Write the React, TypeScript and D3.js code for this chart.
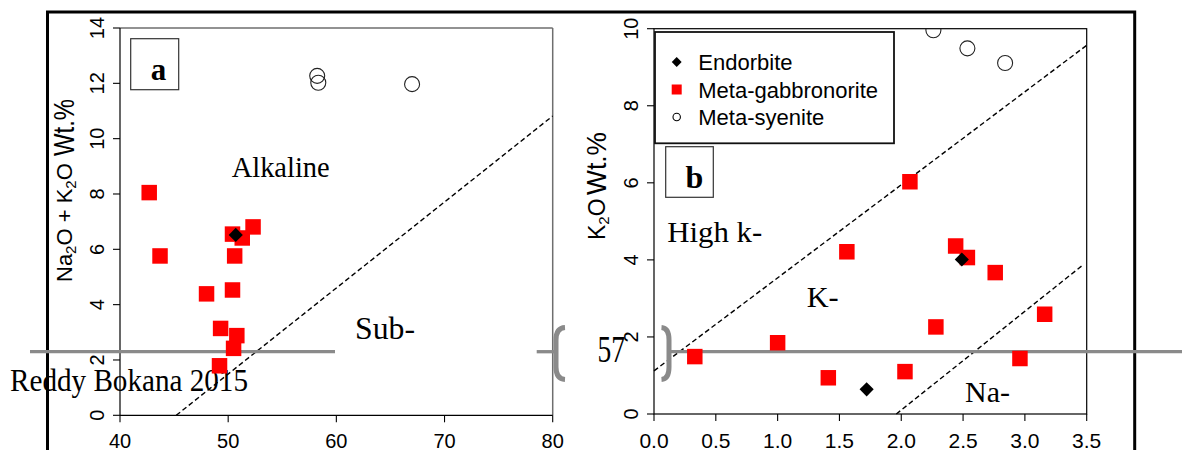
import React from 'react';
import * as d3 from 'd3';

// panel a : SiO2 vs Na2O+K2O
const gabbroA = [
  [42.7, 8.05], [43.7, 5.76], [48.0, 4.39], [50.4, 4.53], [49.3, 3.14], [50.8, 2.88],
  [50.5, 2.42], [49.2, 1.79], [50.6, 5.76], [50.4, 6.55], [51.3, 6.41], [52.3, 6.81],
];
const enderbiteA = [[50.7, 6.52]];
const syeniteA = [[58.23, 12.27], [58.33, 12.02], [67.0, 11.97]];
const dividerA = [[45.2, 0], [80, 10.82]];

// panel b : Na2O vs K2O
const gabbroB = [
  [0.33, 1.49], [1.0, 1.85], [1.41, 0.94], [1.56, 4.21], [2.03, 1.1], [2.28, 2.26],
  [2.44, 4.36], [2.535, 4.06], [2.76, 3.67], [2.96, 1.44], [3.16, 2.59], [2.07, 6.03],
];
const enderbiteB = [[1.72, 0.64], [2.49, 4.01]];
const syeniteB = [[2.26, 9.96], [2.535, 9.49], [2.84, 9.11]];
const upperLineB = [[0, 1.12], [3.5, 9.57]];
const lowerLineB = [[1.96, 0], [3.47, 3.87]];

const xTicksA = [40, 50, 60, 70, 80];
const yTicksA = [0, 2, 4, 6, 8, 10, 12, 14];
const xTicksB = [0, 0.5, 1, 1.5, 2, 2.5, 3, 3.5];
const yTicksB = [0, 2, 4, 6, 8, 10];

const legendItems = ['Endorbite', 'Meta-gabbronorite', 'Meta-syenite'];

const SANS = 'Liberation Sans, Arial, sans-serif';
const SERIF = 'Liberation Serif, Times New Roman, serif';
const GRAY = '#8a8a8a';

const square = d3.symbol(d3.symbolSquare, 240)();
const diamond = d3.symbol(d3.symbolSquare, 100)();
const circle = d3.symbol(d3.symbolCircle, 177)();

export default function App() {
  const xA = d3.scaleLinear().domain([40, 80]).range([120, 552.7]);
  const yA = d3.scaleLinear().domain([0, 14]).range([415.3, 28]);
  const xB = d3.scaleLinear().domain([0, 3.5]).range([654, 1086.7]);
  const yB = d3.scaleLinear().domain([0, 10]).range([414, 28.7]);

  const lineA = d3.line<number[]>().x(d => xA(d[0])).y(d => yA(d[1]));
  const lineB = d3.line<number[]>().x(d => xB(d[0])).y(d => yB(d[1]));
  const fmtB = d3.format('.1f');

  const points = (data: number[][], x: any, y: any, kind: string) =>
    data.map((d, i) => {
      const t = `translate(${x(d[0])},${y(d[1])})`;
      if (kind === 'sq') return <path key={i} d={square} transform={t} fill="#ff0000" />;
      if (kind === 'di') return <path key={i} d={diamond} transform={t + ' rotate(45)'} fill="#000" />;
      return <path key={i} d={circle} transform={t} fill="none" stroke="#222" strokeWidth={1.1} />;
    });

  return (
    <div style={{ position: 'absolute', left: 0, top: 0 }}>
      <svg width={1182} height={450} style={{ display: 'block', background: '#fff' }}>
        <defs>
          <clipPath id="clipB">
            <rect x={xB(0)} y={yB(10)} width={xB(3.5) - xB(0)} height={yB(0) - yB(10)} />
          </clipPath>
        </defs>

        {/* outer frame */}
        <path d="M47.5,450 L47.5,12 L1134.7,12 L1134.7,450" fill="none" stroke="#000" strokeWidth={3} />

        {/* ---- panel a ---- */}
        <line x1={xA(40)} x2={xA(80)} y1={yA(14)} y2={yA(14)} stroke="#6e6e6e" strokeWidth={1.5} />
        <line x1={xA(80)} x2={xA(80)} y1={yA(14)} y2={yA(0)} stroke="#6e6e6e" strokeWidth={1.5} />
        <line x1={xA(40)} x2={xA(80)} y1={yA(0)} y2={yA(0)} stroke="#000" strokeWidth={1.2} />
        <line x1={xA(40)} x2={xA(40)} y1={yA(14)} y2={yA(0)} stroke="#000" strokeWidth={1.2} />
        {xTicksA.map(t => (
          <g key={t}>
            <line x1={xA(t)} x2={xA(t)} y1={yA(0)} y2={yA(0) + 7} stroke="#000" strokeWidth={1.1} />
            <text x={xA(t)} y={448} fontFamily={SANS} fontSize={20} textAnchor="middle">{t}</text>
          </g>
        ))}
        {yTicksA.map(t => (
          <g key={t}>
            <line x1={xA(40) - 7} x2={xA(40)} y1={yA(t)} y2={yA(t)} stroke="#000" strokeWidth={1.1} />
            <text transform={`translate(103.5,${yA(t)}) rotate(-90)`} fontFamily={SANS} fontSize={20} textAnchor="middle">{t}</text>
          </g>
        ))}
        <text transform="translate(72,282) rotate(-90)" fontFamily={SANS} fontSize={22}>
          Na<tspan fontSize={15} dy={4}>2</tspan><tspan dy={-4}>O + K</tspan><tspan fontSize={15} dy={4}>2</tspan><tspan dy={-4}>O</tspan>
        </text>
        <text transform="translate(73.5,156) rotate(-90)" fontFamily={SANS} fontSize={29} textLength={57} lengthAdjust="spacingAndGlyphs">Wt.%</text>

        <path d={lineA(dividerA) || ''} fill="none" stroke="#000" strokeWidth={1.4} strokeDasharray="5,3" />

        <rect x={130.7} y={38.7} width={48} height={51} fill="#fff" stroke="#333" strokeWidth={1.2} />
        <text x={158.5} y={80} fontFamily={SERIF} fontWeight="bold" fontSize={31} textAnchor="middle">a</text>

        <text x={231.7} y={176.7} fontFamily={SERIF} fontSize={30} textLength={98} lengthAdjust="spacingAndGlyphs">Alkaline</text>
        <text x={355} y={339.3} fontFamily={SERIF} fontSize={31} textLength={60} lengthAdjust="spacingAndGlyphs">Sub-</text>

        {/* ---- panel b ---- */}
        <rect x={xB(0)} y={yB(10)} width={xB(3.5) - xB(0)} height={yB(0) - yB(10)} fill="none" stroke="#000" strokeWidth={1.2} />
        {xTicksB.map(t => (
          <g key={t}>
            <line x1={xB(t)} x2={xB(t)} y1={yB(0)} y2={yB(0) + 7} stroke="#000" strokeWidth={1.1} />
            <text x={xB(t)} y={448} fontFamily={SANS} fontSize={21} textAnchor="middle">{fmtB(t)}</text>
          </g>
        ))}
        {yTicksB.map(t => (
          <g key={t}>
            <line x1={xB(0) - 7} x2={xB(0)} y1={yB(t)} y2={yB(t)} stroke="#000" strokeWidth={1.1} />
            <text transform={`translate(638,${yB(t)}) rotate(-90)`} fontFamily={SANS} fontSize={20} textAnchor="middle">{t}</text>
          </g>
        ))}
        <text transform="translate(605,240) rotate(-90)" fontFamily={SANS} fontSize={23}>
          K<tspan fontSize={15} dy={4}>2</tspan><tspan dy={-4}>O</tspan>
        </text>
        <text transform="translate(605.5,195) rotate(-90)" fontFamily={SANS} fontSize={28} textLength={63} lengthAdjust="spacingAndGlyphs">Wt.%</text>

        <path d={lineB(upperLineB) || ''} fill="none" stroke="#000" strokeWidth={1.4} strokeDasharray="5,3" />
        <path d={lineB(lowerLineB) || ''} fill="none" stroke="#000" strokeWidth={1.4} strokeDasharray="5,3" />

        <text x={667.3} y={241.7} fontFamily={SERIF} fontSize={30} textLength={95} lengthAdjust="spacingAndGlyphs">High k-</text>
        <text x={806.7} y={307.3} fontFamily={SERIF} fontSize={30} textLength={32} lengthAdjust="spacingAndGlyphs">K-</text>
        <text x={965} y={401.7} fontFamily={SERIF} fontSize={30} textLength={45} lengthAdjust="spacingAndGlyphs">Na-</text>

        {/* legend */}
        <rect x={655} y={32} width={239} height={111.3} fill="#fff" stroke="#111" strokeWidth={1.8} />
        {legendItems.map((name, i) => {
          const cy = 62 + i * 27.5;
          return (
            <g key={name}>
              {i === 0 && <rect x={-3.5} y={-3.5} width={7} height={7} transform={`translate(676.7,${cy}) rotate(45)`} fill="#000" />}
              {i === 1 && <rect x={671.7} y={cy - 5} width={10} height={10} fill="#ff0000" />}
              {i === 2 && <circle cx={676.7} cy={cy} r={3.7} fill="none" stroke="#000" strokeWidth={1.1} />}
              <text x={698.3} y={cy + 8} fontFamily={SANS} fontSize={22}>{name}</text>
            </g>
          );
        })}
        <rect x={665.7} y={146.7} width={47.6} height={50.6} fill="#fff" stroke="#333" strokeWidth={1.2} />
        <text x={694.3} y={188.3} fontFamily={SERIF} fontWeight="bold" fontSize={32} textAnchor="middle">b</text>

        {/* scan overlay: grey rule, brackets, stray text */}
        <g stroke={GRAY} fill="none">
          <line x1={30} x2={335} y1={351.7} y2={351.7} strokeWidth={3.3} />
          <line x1={536.7} x2={556} y1={351.7} y2={351.7} strokeWidth={3.3} />
          <line x1={669} x2={1182} y1={351.7} y2={351.7} strokeWidth={3.3} />
          <path d="M565,327.5 Q556,328 556,340 L556,367 Q556,379 565,379.5" strokeWidth={5} />
          <path d="M661.5,327.5 Q669,328 669,340 L669,367 Q669,379 661.5,379.5" strokeWidth={5} />
        </g>
        <text x={10} y={390.5} fontFamily={SERIF} fontSize={31} textLength={238} lengthAdjust="spacingAndGlyphs">Reddy Bokana 2015</text>
        <text x={597.5} y={362} fontFamily={SERIF} fontSize={38} textLength={27.5} lengthAdjust="spacingAndGlyphs">57</text>

        {/* points */}
        {points(gabbroA, xA, yA, 'sq')}
        {points(syeniteA, xA, yA, 'ci')}
        {points(enderbiteA, xA, yA, 'di')}
        <g clipPath="url(#clipB)">
          {points(gabbroB, xB, yB, 'sq')}
          {points(syeniteB, xB, yB, 'ci')}
          {points(enderbiteB, xB, yB, 'di')}
        </g>
      </svg>
    </div>
  );
}
